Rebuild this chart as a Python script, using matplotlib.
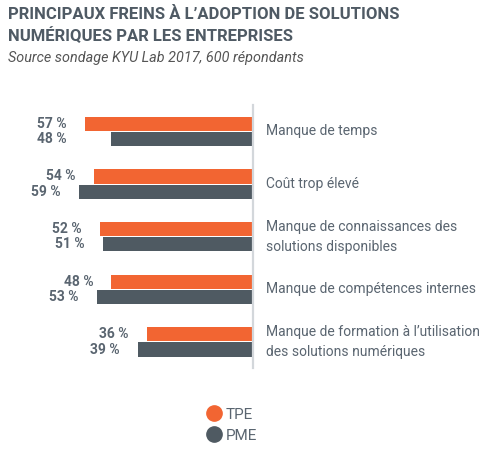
import matplotlib
matplotlib.use("Agg")
import matplotlib.pyplot as plt
from matplotlib.lines import Line2D
from matplotlib.transforms import blended_transform_factory

categories = [
    "Manque de temps",
    "Coût trop élevé",
    "Manque de connaissances des\nsolutions disponibles",
    "Manque de compétences internes",
    "Manque de formation à l\u2019utilisation\ndes solutions numériques",
]
tpe = [57, 54, 52, 48, 36]
pme = [48, 59, 51, 53, 39]
series_names = ["TPE", "PME"]

ORANGE = "#F26532"
DARK = "#4F5A62"
TEXT = "#5A6570"
TITLE = "#4F5A64"

plt.rcParams['font.family'] = ['Roboto', 'DejaVu Sans']

W, H = 498, 453
fig = plt.figure(figsize=(W / 100, H / 100), dpi=100)

# axes: zero line at x=253 px; 2.95 px per percent
ax_top, ax_bot = 105.2, 368.2
ax = fig.add_axes([0, (H - ax_bot) / H, 253 / W, (ax_bot - ax_top) / H])
ax.set_xlim(253 / 2.95, 0)
ax.set_ylim(4.5, -0.5)

bh = 0.27
off = 0.145
ys = list(range(len(categories)))
ax.barh([y - off for y in ys], tpe, height=bh, color=ORANGE, label=series_names[0])
ax.barh([y + off for y in ys], pme, height=bh, color=DARK, label=series_names[1])

for s in ["top", "left", "bottom"]:
    ax.spines[s].set_visible(False)
ax.spines["right"].set_color("#D3D7DB")
ax.spines["right"].set_linewidth(1.6)
ax.set_xticks([])
ax.set_yticks([])
ax.patch.set_alpha(0)

# value labels
for i, y in enumerate(ys):
    a_tpe = tpe[i]
    a_pme = pme[i] if i != 0 else tpe[i]
    ax.annotate(f"{tpe[i]} %", xy=(a_tpe, y - off), xytext=(-13, 0),
                textcoords="offset points", ha="right", va="center",
                fontsize=10, fontweight="bold", color=TEXT)
    ax.annotate(f"{pme[i]} %", xy=(a_pme, y + off), xytext=(-13, 0),
                textcoords="offset points", ha="right", va="center",
                fontsize=10, fontweight="bold", color=TEXT)

# category labels
tr = blended_transform_factory(fig.transFigure, ax.transData)
for i, c in enumerate(categories):
    ax.text(266 / W, i, c, transform=tr, ha="left", va="center",
            fontsize=10, color=TEXT, linespacing=1.55)

# titles
fig.text(8 / W, 1 - 25.5 / H, "PRINCIPAUX FREINS À L\u2019ADOPTION DE SOLUTIONS\nNUMÉRIQUES PAR LES ENTREPRISES",
         ha="left", va="center", fontsize=12, fontweight="bold", color=TITLE,
         linespacing=1.4)
fig.text(8 / W, 1 - 58 / H, "Source sondage KYU Lab 2017, 600 répondants",
         ha="left", va="center", fontsize=10.4, style="italic", color="#555555")

# legend
handles = [Line2D([], [], marker="o", linestyle="none", markersize=11, color=ORANGE),
           Line2D([], [], marker="o", linestyle="none", markersize=11, color=DARK)]
fig.legend(handles, series_names, loc="upper left",
           bbox_to_anchor=(197 / W, 1 - 400 / H), frameon=False,
           fontsize=11, labelcolor=TEXT, handletextpad=0.2, labelspacing=0.45,
           borderpad=0, handlelength=1.2)

fig.savefig("out.png", dpi=100, facecolor="white")
